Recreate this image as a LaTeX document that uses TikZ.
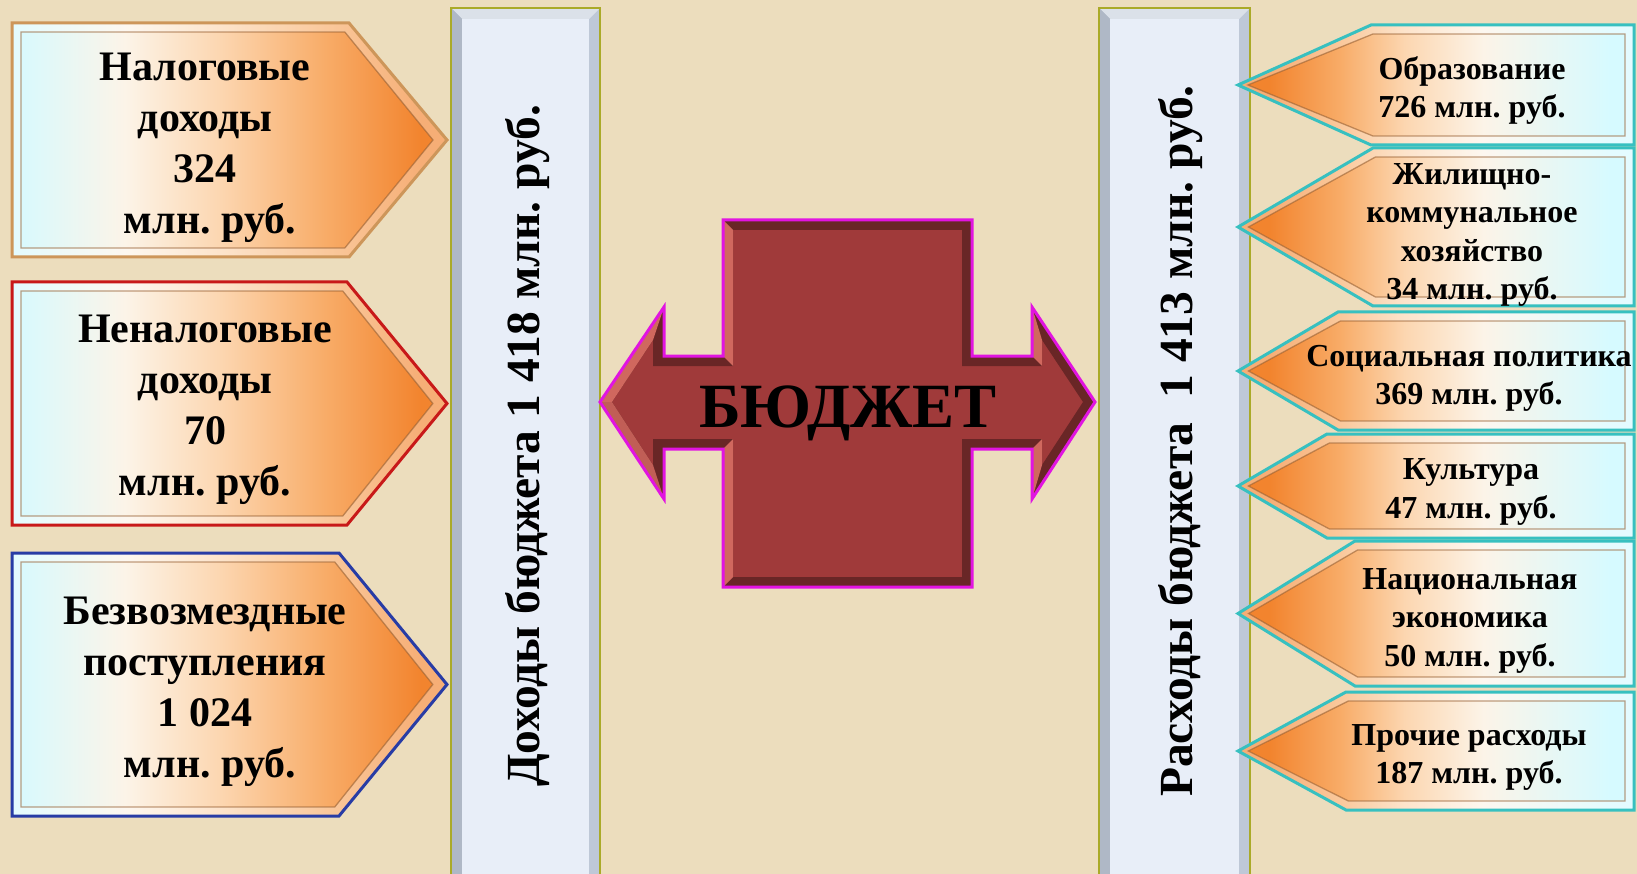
\documentclass[tikz,border=0pt]{standalone}
\usepackage{fontspec}
\setmainfont{Liberation Serif}
\frenchspacing
\definecolor{bgc}{RGB}{236,221,189}
\definecolor{cyn}{RGB}{214,250,255}
\definecolor{crm}{RGB}{252,244,232}
\definecolor{pch}{RGB}{252,214,176}
\definecolor{lor}{RGB}{248,172,104}
\definecolor{orn}{RGB}{242,132,46}
\definecolor{tanb}{RGB}{205,150,90}
\definecolor{redb}{RGB}{200,25,25}
\definecolor{blub}{RGB}{40,60,165}
\definecolor{teab}{RGB}{55,192,192}
\definecolor{edgec}{RGB}{150,95,50}
\definecolor{pilband}{RGB}{190,200,215}
\definecolor{pilin}{RGB}{232,238,248}
\definecolor{pilline}{RGB}{170,170,40}
\definecolor{bud}{RGB}{160,58,58}
\definecolor{buddark}{RGB}{105,38,38}
\definecolor{budlight}{RGB}{208,104,94}
\definecolor{magb}{RGB}{225,20,225}
\pgfdeclarehorizontalshading{lshade}{100bp}{color(0bp)=(cyn); color(25bp)=(cyn); color(38bp)=(crm); color(49bp)=(pch); color(61bp)=(lor); color(72bp)=(orn); color(100bp)=(orn)}
\pgfdeclarehorizontalshading{rshade}{100bp}{color(0bp)=(orn); color(29bp)=(orn); color(38bp)=(lor); color(46bp)=(pch); color(56bp)=(crm); color(72bp)=(cyn); color(100bp)=(cyn)}
% box with its tip on the right
\newcommand{\leftarr}[6]{%
 \pgfmathsetmacro\mym{(#2+#3)/2}%
 \pgfmathsetmacro\myth{atan2(\mym-#2,#5-#4)}%
 \pgfmathsetmacro\mysx{#4-9*sin(\myth)+9*tan(\myth/2)*cos(\myth)}%
 \pgfmathsetmacro\mytx{#5-9/cos(\myth)}%
 \shade[shading=lshade] (#1,#2) -- (#4,#2) -- (#5,\mym) -- (#4,#3) -- (#1,#3) -- cycle;
 \fill[white,opacity=.35,even odd rule] (#1,#2) -- (#4,#2) -- (#5,\mym) -- (#4,#3) -- (#1,#3) -- cycle
   (#1+9,#2+9) -- (\mysx,#2+9) -- (\mytx,\mym) -- (\mysx,#3-9) -- (#1+9,#3-9) -- cycle;
 \draw[edgec,opacity=.6,line width=1.3pt] (#1+9,#2+9) -- (\mysx,#2+9) -- (\mytx,\mym) -- (\mysx,#3-9) -- (#1+9,#3-9) -- cycle;
 \draw[#6,line width=3pt,line join=miter] (#1,#2) -- (#4,#2) -- (#5,\mym) -- (#4,#3) -- (#1,#3) -- cycle;
}
% box with its tip on the left
\newcommand{\rightarr}[6]{%
 \pgfmathsetmacro\mym{(#2+#3)/2}%
 \pgfmathsetmacro\myth{atan2(\mym-#2,#4-#5)}%
 \pgfmathsetmacro\mysx{#4+9*sin(\myth)-9*tan(\myth/2)*cos(\myth)}%
 \pgfmathsetmacro\mytx{#5+9/cos(\myth)}%
 \shade[shading=rshade] (#5,\mym) -- (#4,#2) -- (#1,#2) -- (#1,#3) -- (#4,#3) -- cycle;
 \fill[white,opacity=.35,even odd rule] (#5,\mym) -- (#4,#2) -- (#1,#2) -- (#1,#3) -- (#4,#3) -- cycle
   (\mytx,\mym) -- (\mysx,#2+9) -- (#1-9,#2+9) -- (#1-9,#3-9) -- (\mysx,#3-9) -- cycle;
 \draw[edgec,opacity=.6,line width=1.3pt] (\mytx,\mym) -- (\mysx,#2+9) -- (#1-9,#2+9) -- (#1-9,#3-9) -- (\mysx,#3-9) -- cycle;
 \draw[#6,line width=3pt,line join=miter] (#5,\mym) -- (#4,#2) -- (#1,#2) -- (#1,#3) -- (#4,#3) -- cycle;
}
\newcommand{\pillar}[2]{%
 \fill[pilband] (#1,8) rectangle (#2,880);
 \fill[pilband!55!white] (#1,8) -- (#2,8) -- (#2-11,19) -- (#1+11,19) -- cycle;
 \fill[pilband!92!black] (#1,8) -- (#1+11,19) -- (#1+11,880) -- (#1,880) -- cycle;
 \fill[pilin] (#1+11,19) rectangle (#2-11,880);
 \draw[pilline,line width=2.5pt] (#1,880) -- (#1,8) -- (#2,8) -- (#2,880);
}
\begin{document}
\begin{tikzpicture}[x=1pt,y=-1pt,
  ltext/.style={font=\fontsize{42}{51}\selectfont\bfseries,align=center,inner sep=0pt},
  rtext/.style={font=\fontsize{32}{38.5}\selectfont\bfseries,align=center,inner sep=0pt},
  ptext/.style={font=\fontsize{47.5}{57}\selectfont\bfseries,rotate=90,inner sep=0pt},
  ctext/.style={font=\fontsize{63}{70}\selectfont\bfseries,inner sep=0pt}]
\useasboundingbox (0,0) rectangle (1637,874);
\begin{scope}
\clip (0,0) rectangle (1637,874);
\fill[bgc] (0,0) rectangle (1637,874);
% pillars
\pillar{451}{600}
\pillar{1099}{1250}
% left boxes
\leftarr{12}{23}{257}{349}{447}{tanb}
\leftarr{12}{282}{525}{347}{447}{redb}
\leftarr{12}{553}{816}{339}{447}{blub}
% right boxes
\rightarr{1634}{25}{145}{1371}{1238}{teab}
\rightarr{1634}{148}{306}{1373}{1238}{teab}
\rightarr{1634}{312}{430}{1338}{1238}{teab}
\rightarr{1634}{434}{538}{1327}{1238}{teab}
\rightarr{1634}{541}{686}{1355}{1238}{teab}
\rightarr{1634}{692}{810}{1346}{1238}{teab}
% central double arrow
\fill[bud] (723,220) -- (972,220) -- (972,356) -- (1032,356) -- (1032,307) -- (1095,402) -- (1032,499) -- (1032,449) -- (972,449) -- (972,587) -- (723,587) -- (723,449) -- (664,449) -- (664,499) -- (600,402) -- (664,307) -- (664,356) -- (723,356) -- cycle;
\fill[buddark,even odd rule] (723,220) -- (972,220) -- (972,356) -- (1032,356) -- (1032,307) -- (1095,402) -- (1032,499) -- (1032,449) -- (972,449) -- (972,587) -- (723,587) -- (723,449) -- (664,449) -- (664,499) -- (600,402) -- (664,307) -- (664,356) -- (723,356) -- cycle
  (733,230) -- (962,230) -- (962,366) -- (1042,366) -- (1042,340) -- (1083,402) -- (1042,465) -- (1042,439) -- (962,439) -- (962,577) -- (733,577) -- (733,439) -- (653,439) -- (653,465) -- (612,402) -- (653,340) -- (653,366) -- (733,366) -- cycle;
\fill[budlight] (723,220) -- (733,230) -- (733,366) -- (723,356) -- cycle;
\fill[budlight] (723,449) -- (733,439) -- (733,577) -- (723,587) -- cycle;
\fill[budlight] (664,307) -- (653,340) -- (612,402) -- (600,402) -- cycle;
\fill[budlight!85!buddark] (600,402) -- (612,402) -- (653,465) -- (664,499) -- cycle;
\fill[budlight] (1032,356) -- (1042,366) -- (1042,340) -- (1032,307) -- cycle;
\fill[budlight] (1032,449) -- (1042,439) -- (1042,465) -- (1032,499) -- cycle;
\draw[magb,line width=3pt,line join=miter] (723,220) -- (972,220) -- (972,356) -- (1032,356) -- (1032,307) -- (1095,402) -- (1032,499) -- (1032,449) -- (972,449) -- (972,587) -- (723,587) -- (723,449) -- (664,449) -- (664,499) -- (600,402) -- (664,307) -- (664,356) -- (723,356) -- cycle;
% texts
\node[ltext] (tax) at (205,147.5) {Налоговые\\доходы\\324\\\hspace*{10pt}млн. руб.};
\node[ltext] (nontax) at (205,409.5) {Неналоговые\\доходы\\70\\млн. руб.};
\node[ltext] (free) at (205,691.5) {Безвозмездные\\поступления\\1 024\\\hspace*{10pt}млн. руб.};
\node[ptext] (inc) at (528,446) {Доходы бюджета 1 418 млн. руб.};
\node[ptext] (exp) at (1181,441) {Расходы бюджета\ \ 1 413 млн. руб.};
\node[ctext,anchor=base] (budget) at (848,427) {БЮДЖЕТ};
\node[rtext] (edu) at (1472,90.5) {Образование\\726 млн. руб.};
\node[rtext] (zhkh) at (1472,235) {Жилищно-\\коммунальное\\хозяйство\\34 млн. руб.};
\node[rtext] (soc) at (1469,378.5) {Социальная политика\\369 млн. руб.};
\node[rtext] (cult) at (1471,492) {Культура\\47 млн. руб.};
\node[rtext] (econ) at (1470,620.5) {Национальная\\экономика\\50 млн. руб.};
\node[rtext] (other) at (1469,757.5) {Прочие расходы\\187 млн. руб.};
\end{scope}
\end{tikzpicture}
\end{document}
